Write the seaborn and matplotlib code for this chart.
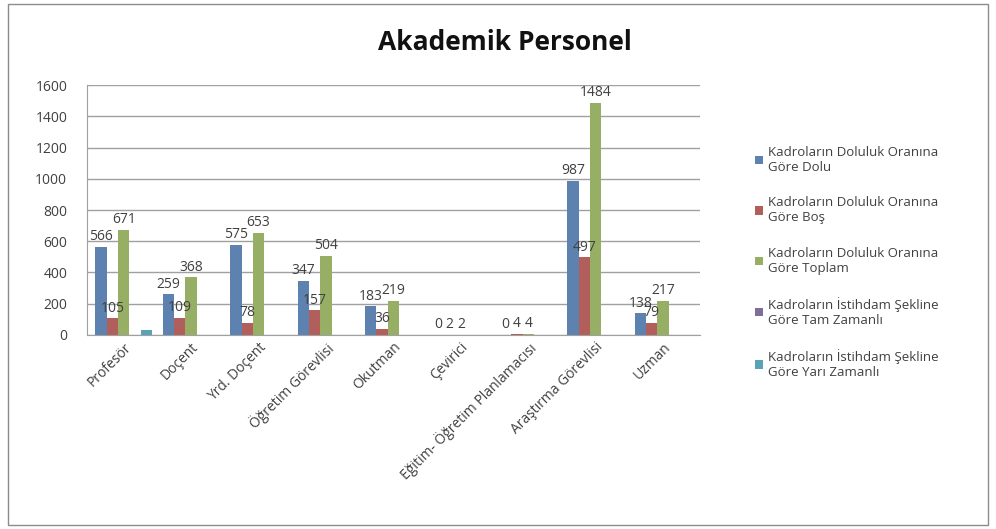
import matplotlib
matplotlib.use("Agg")
import matplotlib.pyplot as plt
from matplotlib.patches import Rectangle
import seaborn as sns
import pandas as pd

categories = ["Profesör", "Doçent", "Yrd. Doçent", "Öğretim Görevlisi", "Okutman",
              "Çevirici", "Eğitim- Öğretim Planlamacısı", "Araştırma Görevlisi", "Uzman"]
series = ["Kadroların Doluluk Oranına\nGöre Dolu",
          "Kadroların Doluluk Oranına\nGöre Boş",
          "Kadroların Doluluk Oranına\nGöre Toplam",
          "Kadroların İstihdam Şekline\nGöre Tam Zamanlı",
          "Kadroların İstihdam Şekline\nGöre Yarı Zamanlı"]
dolu = [566, 259, 575, 347, 183, 0, 0, 987, 138]
bos = [105, 109, 78, 157, 36, 2, 4, 497, 79]
toplam = [671, 368, 653, 504, 219, 2, 4, 1484, 217]
tam = [0, 0, 0, 0, 0, 0, 0, 0, 0]
yari = [30, 0, 0, 0, 0, 0, 0, 0, 0]
colors = ["#4F81BD", "#C0504D", "#9BBB59", "#8064A2", "#4BACC6"]

rows = []
for s, vals in zip(series, [dolu, bos, toplam, tam, yari]):
    for c, v in zip(categories, vals):
        rows.append({"cat": c, "val": v, "series": s})
df = pd.DataFrame(rows)

sns.set_style("white")
plt.rcParams["font.family"] = ["Open Sans", "DejaVu Sans"]

fig = plt.figure(figsize=(9.96, 5.29), dpi=100)
ax = fig.add_axes([0.087, 0.367, 0.616, 0.472])
sns.barplot(data=df, x="cat", y="val", hue="series", palette=colors,
            width=0.84, ax=ax, legend=True, edgecolor="none")

# value labels for the first three series only
for cont in ax.containers[:3]:
    ax.bar_label(cont, fmt="%d", padding=2, fontsize=10, color="#404040")

ax.set_ylim(0, 1600)
ax.set_yticks(range(0, 1601, 200))
ax.yaxis.grid(True, color="#A0A0A0", linewidth=1)
ax.set_axisbelow(True)
ax.set_xlim(-0.55, len(categories) - 0.45)
ax.set_xlabel("")
ax.set_ylabel("")
ax.tick_params(axis="y", labelsize=10, colors="#404040", length=0, pad=14)
ax.tick_params(axis="x", labelsize=10, colors="#404040", length=0)
plt.setp(ax.get_xticklabels(), rotation=45, ha="right", rotation_mode="anchor")
for side in ["top", "right"]:
    ax.spines[side].set_visible(False)
ax.spines["left"].set_color("#A0A0A0")
ax.spines["bottom"].set_color("#A0A0A0")

fig.suptitle("Akademik Personel", x=0.507, y=0.945, fontsize=19, fontweight="bold", color="#111111")

leg = ax.legend(loc="center left", bbox_to_anchor=(1.07, 0.29), frameon=False,
                fontsize=9.5, handlelength=0.6, handleheight=0.6, handletextpad=0.4,
                labelspacing=1.7, labelcolor="#404040")

fig.patches.append(Rectangle((0.008, 0.008), 0.984, 0.984, transform=fig.transFigure,
                             fill=False, edgecolor="#8C8C8C", linewidth=1))

fig.savefig("out.png", dpi=100)
